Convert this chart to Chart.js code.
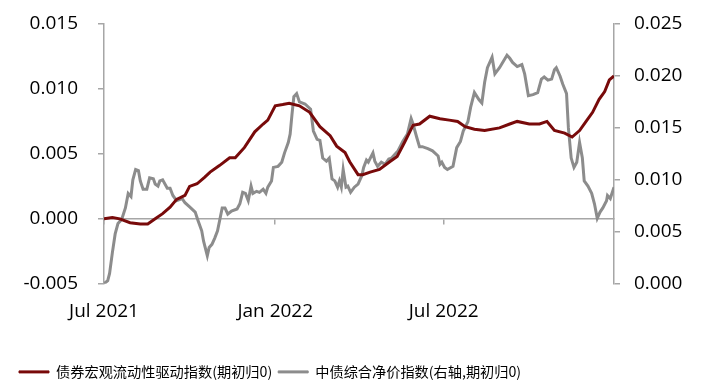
<!DOCTYPE html>
<html><head><meta charset="utf-8">
<script src="https://cdn.jsdelivr.net/npm/chart.js@4.4.1/dist/chart.umd.min.js"></script>
<style>html,body{margin:0;padding:0;background:#fff}#wrap{width:702px;height:389px}</style>
</head><body><div id="wrap"><canvas id="c" width="702" height="389"></canvas></div>
<script>
const seriesNames = ['债券宏观流动性驱动指数(期初归0)', '中债综合净价指数(右轴,期初归0)'];

const redDates = ['2021-07-01','2021-07-10','2021-07-18','2021-07-29','2021-08-09','2021-08-17','2021-08-25','2021-09-02','2021-09-10','2021-09-17','2021-09-26','2021-10-01','2021-10-09','2021-10-17','2021-10-23','2021-11-02','2021-11-13','2021-11-19','2021-11-29','2021-12-10','2021-12-19','2021-12-24','2022-01-01','2022-01-09','2022-01-16','2022-01-27','2022-02-07','2022-02-18','2022-03-01','2022-03-08','2022-03-17','2022-03-22','2022-03-31','2022-04-05','2022-04-13','2022-04-23','2022-05-04','2022-05-12','2022-05-20','2022-05-29','2022-06-05','2022-06-16','2022-06-27','2022-07-07','2022-07-16','2022-07-24','2022-08-03','2022-08-14','2022-08-30','2022-09-10','2022-09-18','2022-10-01','2022-10-12','2022-10-20','2022-10-28','2022-11-08','2022-11-16','2022-11-24','2022-12-01','2022-12-08','2022-12-15','2022-12-21','2022-12-26','2022-12-31'];
const redValues = [0.0000,0.0001,0.0000,-0.0003,-0.0004,-0.0004,0.0000,0.0004,0.0009,0.0015,0.0018,0.0025,0.0027,0.0032,0.0036,0.0041,0.0047,0.0047,0.0055,0.0067,0.0073,0.0076,0.0087,0.0088,0.0089,0.0087,0.0082,0.0071,0.0064,0.0056,0.0051,0.0044,0.0034,0.0034,0.0036,0.0038,0.0044,0.0048,0.0059,0.0072,0.0073,0.0079,0.0077,0.0076,0.0075,0.0071,0.0069,0.0068,0.0070,0.0073,0.0075,0.0073,0.0073,0.0075,0.0068,0.0066,0.0063,0.0068,0.0075,0.0082,0.0092,0.0098,0.0107,0.0110];

const grayDates = ['2021-07-01','2021-07-05','2021-07-07','2021-07-10','2021-07-13','2021-07-16','2021-07-20','2021-07-24','2021-07-27','2021-07-30','2021-08-01','2021-08-04','2021-08-07','2021-08-09','2021-08-12','2021-08-16','2021-08-19','2021-08-23','2021-08-25','2021-08-28','2021-08-30','2021-09-02','2021-09-07','2021-09-10','2021-09-13','2021-09-17','2021-09-23','2021-09-26','2021-10-01','2021-10-07','2021-10-10','2021-10-14','2021-10-16','2021-10-20','2021-10-22','2021-10-25','2021-10-28','2021-10-31','2021-11-05','2021-11-08','2021-11-11','2021-11-15','2021-11-21','2021-11-24','2021-11-27','2021-11-30','2021-12-03','2021-12-06','2021-12-08','2021-12-12','2021-12-15','2021-12-19','2021-12-22','2021-12-24','2021-12-28','2021-12-30','2022-01-04','2022-01-08','2022-01-11','2022-01-15','2022-01-17','2022-01-19','2022-01-21','2022-01-24','2022-01-27','2022-02-02','2022-02-08','2022-02-11','2022-02-15','2022-02-18','2022-02-21','2022-02-25','2022-02-28','2022-03-03','2022-03-06','2022-03-09','2022-03-11','2022-03-13','2022-03-15','2022-03-18','2022-03-20','2022-03-23','2022-03-27','2022-03-31','2022-04-04','2022-04-06','2022-04-09','2022-04-11','2022-04-16','2022-04-18','2022-04-21','2022-04-25','2022-04-29','2022-05-03','2022-05-06','2022-05-13','2022-05-18','2022-05-23','2022-05-27','2022-05-29','2022-06-02','2022-06-05','2022-06-08','2022-06-14','2022-06-19','2022-06-25','2022-06-27','2022-06-29','2022-07-02','2022-07-05','2022-07-11','2022-07-15','2022-07-19','2022-07-22','2022-07-27','2022-07-30','2022-08-03','2022-08-08','2022-08-11','2022-08-14','2022-08-17','2022-08-22','2022-08-25','2022-08-30','2022-09-07','2022-09-10','2022-09-13','2022-09-18','2022-09-23','2022-09-26','2022-09-30','2022-10-05','2022-10-10','2022-10-14','2022-10-17','2022-10-21','2022-10-25','2022-10-28','2022-10-30','2022-11-03','2022-11-06','2022-11-10','2022-11-12','2022-11-15','2022-11-18','2022-11-21','2022-11-24','2022-11-27','2022-11-29','2022-12-03','2022-12-07','2022-12-10','2022-12-13','2022-12-16','2022-12-19','2022-12-23','2022-12-24','2022-12-27','2022-12-31'];
const grayValues = [0.0000,0.0003,0.0010,0.0030,0.0048,0.0058,0.0062,0.0073,0.0087,0.0084,0.0100,0.0110,0.0109,0.0099,0.0091,0.0091,0.0102,0.0101,0.0096,0.0094,0.0099,0.0100,0.0092,0.0092,0.0085,0.0080,0.0082,0.0078,0.0074,0.0069,0.0061,0.0051,0.0041,0.0027,0.0035,0.0038,0.0044,0.0051,0.0073,0.0073,0.0067,0.0070,0.0072,0.0077,0.0088,0.0087,0.0080,0.0094,0.0087,0.0089,0.0088,0.0091,0.0087,0.0093,0.0099,0.0112,0.0113,0.0117,0.0126,0.0136,0.0144,0.0163,0.0180,0.0183,0.0175,0.0173,0.0168,0.0147,0.0139,0.0138,0.0121,0.0118,0.0121,0.0101,0.0099,0.0093,0.0099,0.0093,0.0110,0.0093,0.0094,0.0088,0.0093,0.0096,0.0104,0.0112,0.0119,0.0117,0.0126,0.0118,0.0113,0.0117,0.0115,0.0120,0.0121,0.0128,0.0137,0.0144,0.0159,0.0154,0.0141,0.0132,0.0132,0.0130,0.0128,0.0123,0.0115,0.0117,0.0112,0.0110,0.0113,0.0131,0.0137,0.0147,0.0156,0.0170,0.0184,0.0177,0.0174,0.0194,0.0208,0.0218,0.0202,0.0208,0.0220,0.0217,0.0213,0.0209,0.0211,0.0202,0.0181,0.0182,0.0184,0.0197,0.0199,0.0196,0.0197,0.0206,0.0208,0.0200,0.0192,0.0183,0.0150,0.0121,0.0112,0.0117,0.0136,0.0121,0.0099,0.0094,0.0087,0.0077,0.0063,0.0069,0.0073,0.0080,0.0085,0.0082,0.0093];

const xStart = '2021-07-01';
const xEnd = '2022-12-31';
const tickDates = ['2021-07-01', '2022-01-01', '2022-07-01'];
const tickLabels = ['Jul 2021', 'Jan 2022', 'Jul 2022'];
const leftRange = [-0.005, 0.015, 0.005];
const rightRange = [0, 0.025, 0.005];

const dayOf = d => Math.round((Date.parse(d) - Date.parse(xStart)) / 86400000);
const toPoints = (dates, vals) => dates.map((d, i) => ({ x: dayOf(d), y: vals[i] }));
const tickDays = tickDates.map(dayOf);

const AXIS = '#A6A6A6';
const RED = '#780A0A';
const GRAY = '#8C8C8C';
const tickFont = { family: "'Open Sans', 'Noto Sans', sans-serif", size: 19 };

const setTicks = s => { s.ticks = tickDays.map(v => ({ value: v })); };
const tickCb = v => { const i = tickDays.indexOf(v); return i >= 0 ? tickLabels[i] : ''; };
const fitY = w => s => { s.width = w; s.paddingTop = 12; s.paddingBottom = 12; };

new Chart(document.getElementById('c'), {
  type: 'line',
  data: {
    datasets: [
      { label: seriesNames[0], data: toPoints(redDates, redValues), borderColor: RED, backgroundColor: RED,
        borderWidth: 3, pointRadius: 0, tension: 0, yAxisID: 'y', xAxisID: 'x', order: 1 },
      { label: seriesNames[1], data: toPoints(grayDates, grayValues), borderColor: GRAY, backgroundColor: GRAY,
        borderWidth: 3, pointRadius: 0, tension: 0, yAxisID: 'y1', xAxisID: 'x', order: 2 }
    ]
  },
  options: {
    responsive: false,
    animation: false,
    layout: { padding: { left: 13, right: 0, top: 24, bottom: 0 } },
    plugins: {
      tooltip: { enabled: false },
      legend: {
        position: 'bottom', align: 'start',
        labels: {
          boxWidth: 30, boxHeight: 2, padding: 6, color: '#000',
          font: { family: "'Noto Sans CJK SC', sans-serif", size: 14.2 },
          generateLabels(chart) {
            const items = Chart.defaults.plugins.legend.labels.generateLabels(chart);
            items.forEach(it => { it.lineWidth = 1; });
            return items;
          }
        }
      }
    },
    scales: {
      x: {
        type: 'linear', position: { y: 0 }, min: dayOf(xStart), max: dayOf(xEnd),
        afterBuildTicks: setTicks,
        grid: { drawOnChartArea: false, drawTicks: true, tickLength: 5, color: AXIS, lineWidth: 1.5 },
        border: { display: true, color: AXIS, width: 1.5 },
        ticks: { display: false }
      },
      x2: {
        type: 'linear', position: 'bottom', min: dayOf(xStart), max: dayOf(xEnd),
        afterBuildTicks: setTicks,
        afterFit: s => { s.height = 75; },
        grid: { display: false, drawTicks: false },
        border: { display: false },
        ticks: { padding: 16, color: '#000', font: tickFont, maxRotation: 0, autoSkip: false, callback: tickCb }
      },
      y: {
        position: 'left', min: leftRange[0], max: leftRange[1],
        afterFit: fitY(91),
        ticks: { stepSize: leftRange[2], padding: 20, color: '#000', font: tickFont, callback: v => v.toFixed(3) },
        grid: { drawOnChartArea: false, drawTicks: true, tickLength: 6, color: AXIS, lineWidth: 1.5 },
        border: { display: true, color: AXIS, width: 1.5 }
      },
      y1: {
        position: 'right', min: rightRange[0], max: rightRange[1],
        afterFit: fitY(88),
        ticks: { stepSize: rightRange[2], padding: 14, color: '#000', font: tickFont, callback: v => v.toFixed(3) },
        grid: { drawOnChartArea: false, drawTicks: true, tickLength: 6, color: AXIS, lineWidth: 1.5 },
        border: { display: true, color: AXIS, width: 1.5 }
      }
    }
  }
});
</script></body></html>
